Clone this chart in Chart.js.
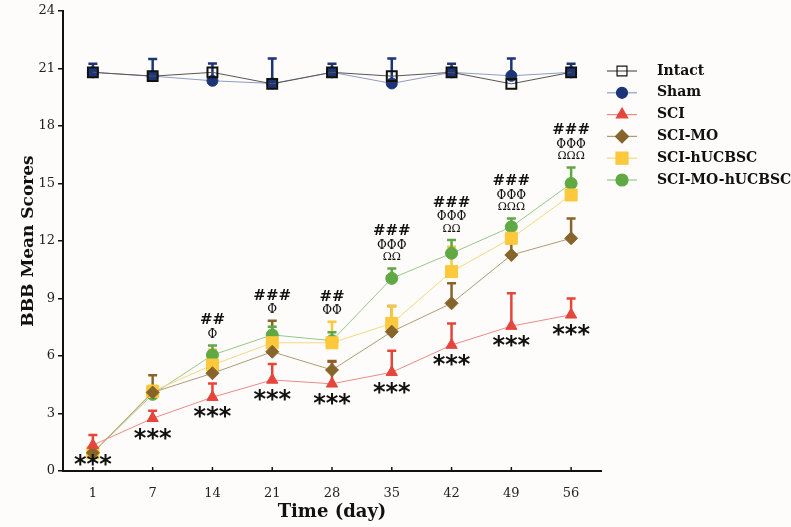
<!DOCTYPE html>
<html>
<head>
<meta charset="utf-8">
<script src="https://cdn.jsdelivr.net/npm/chart.js@4.4.1/dist/chart.umd.min.js"></script>
<style>
  html, body { margin: 0; padding: 0; background: #fdfcfb; }
  #wrap { width: 791px; height: 527px; }
</style>
</head>
<body>
<div id="wrap"><canvas id="bbbChart"></canvas></div>
<script>
// days of measurement
const days = ["1", "7", "14", "21", "28", "35", "42", "49", "56"];

// group means and upper SD
const intact = [20.8, 20.6, 20.8, 20.2, 20.8, 20.6, 20.8, 20.2, 20.8];
const intactSd = [0, 0, 0, 0, 0, 0, 0, 0, 0];
const sham = [20.8, 20.6, 20.36, 20.22, 20.8, 20.22, 20.8, 20.62, 20.8];
const shamSd = [0.45, 0.9, 0.9, 1.3, 0.45, 1.3, 0.45, 0.9, 0.45];
const sci = [1.35, 2.75, 3.85, 4.75, 4.55, 5.15, 6.57, 7.56, 8.15];
const sciSd = [0.53, 0.4, 0.72, 0.83, 1.15, 1.13, 1.13, 1.71, 0.85];
const sciMo = [0.95, 4.1, 5.1, 6.22, 5.27, 7.27, 8.75, 11.27, 12.14];
const sciMoSd = [0.1, 0.9, 1.2, 1.62, 0.47, 1.34, 1.04, 1.5, 1.04];
const sciHu = [0.95, 4.15, 5.53, 6.69, 6.69, 7.7, 10.4, 12.14, 14.4];
const sciHuSd = [0.1, 0.3, 0.8, 0.6, 1.1, 0.9, 1.3, 0.7, 0.78];
const sciMoHu = [0.95, 4.0, 6.05, 7.1, 6.8, 10.05, 11.36, 12.74, 15.0];
const sciMoHuSd = [0.1, 0.3, 0.5, 0.43, 0.44, 0.52, 0.69, 0.44, 0.84];

// significance marks
const starMarks = ["***", "***", "***", "***", "***", "***", "***", "***", "***"];
const hashMarks = ["", "", "##", "###", "##", "###", "###", "###", "###"];
const phiMarks = ["", "", "Φ", "Φ", "ΦΦ", "ΦΦΦ", "ΦΦΦ", "ΦΦΦ", "ΦΦΦ"];
const omegaMarks = ["", "", "", "", "", "ΩΩ", "ΩΩ", "ΩΩΩ", "ΩΩΩ"];

const SERIF = "'DejaVu Serif', serif";

function series(label, data, sd, color, lineColor, style, radius, fill) {
    return {
        label: label,
        data: data,
        sd: sd,
        borderColor: lineColor,
        borderWidth: 1,
        pointStyle: style,
        pointRadius: radius,
        pointHoverRadius: radius,
        pointBackgroundColor: fill,
        pointBorderColor: color,
        pointBorderWidth: style === "rect" && fill === "rgba(0,0,0,0)" ? 2 : 1,
        errColor: color,
        tension: 0
    };
}

const datasets = [
    series("Intact", intact, intactSd, "#111111", "#555555", "rect", 7, "rgba(0,0,0,0)"),
    series("Sham", sham, shamSd, "#1d3577", "#8e9cc2", "circle", 5.5, "#1d3577"),
    series("SCI", sci, sciSd, "#e5453b", "#ee8a84", "triangle", 6.5, "#e5453b"),
    series("SCI-MO", sciMo, sciMoSd, "#87652a", "#b09a74", "rectRot", 6.5, "#87652a"),
    series("SCI-hUCBSC", sciHu, sciHuSd, "#fcc83c", "#f7d77e", "rect", 8.5, "#fcc83c"),
    series("SCI-MO-hUCBSC", sciMoHu, sciMoHuSd, "#5fa844", "#97c886", "circle", 6, "#5fa844")
];

// upper error bars, drawn under the markers
const errorBars = {
    id: "errorBars",
    beforeDatasetsDraw(chart) {
        const ctx = chart.ctx;
        const x = chart.scales.x;
        const y = chart.scales.y;
        ctx.save();
        chart.data.datasets.forEach(ds => {
            ds.data.forEach((v, i) => {
                if (!ds.sd[i]) return;
                const px = x.getPixelForValue(i);
                const y0 = y.getPixelForValue(v);
                const y1 = y.getPixelForValue(v + ds.sd[i]);
                ctx.strokeStyle = ds.errColor;
                ctx.lineWidth = 2.5;
                ctx.beginPath();
                ctx.moveTo(px, y0);
                ctx.lineTo(px, y1);
                ctx.moveTo(px - 4.5, y1);
                ctx.lineTo(px + 4.5, y1);
                ctx.stroke();
            });
        });
        ctx.restore();
    }
};

// significance text, inward x ticks and the legend
const extras = {
    id: "extras",
    afterDraw(chart) {
        const ctx = chart.ctx;
        const x = chart.scales.x;
        const y = chart.scales.y;
        const area = chart.chartArea;
        ctx.save();

        ctx.strokeStyle = "#111";
        ctx.lineWidth = 1.5;
        days.forEach((d, i) => {
            const px = x.getPixelForValue(i);
            ctx.beginPath();
            ctx.moveTo(px, area.bottom);
            ctx.lineTo(px, area.bottom - 4);
            ctx.stroke();
        });

        ctx.fillStyle = "#111";
        ctx.textAlign = "center";
        ctx.textBaseline = "middle";
        days.forEach((d, i) => {
            const px = x.getPixelForValue(i);
            ctx.font = "bold 24px 'DejaVu Sans', sans-serif";
            ctx.fillText(starMarks[i], px, y.getPixelForValue(sci[i]) + 21);

            const top = Math.max(sciMo[i] + sciMoSd[i], sciHu[i] + sciHuSd[i], sciMoHu[i] + sciMoHuSd[i]);
            let py = y.getPixelForValue(top) - 11;
            if (omegaMarks[i]) {
                ctx.font = "11px " + SERIF;
                ctx.fillText(omegaMarks[i], px, py);
                py -= 12;
            }
            if (phiMarks[i]) {
                ctx.font = "12px " + SERIF;
                ctx.fillText(phiMarks[i], px, py);
                py -= 14;
            }
            if (hashMarks[i]) {
                ctx.font = "bold 15px " + SERIF;
                ctx.fillText(hashMarks[i], px, py);
            }
        });

        const lx = 622;
        let ly = 71;
        chart.data.datasets.forEach(ds => {
            ctx.strokeStyle = ds.borderColor;
            ctx.lineWidth = 1.2;
            ctx.beginPath();
            ctx.moveTo(lx - 15, ly);
            ctx.lineTo(lx + 15, ly);
            ctx.stroke();
            ctx.fillStyle = ds.pointBackgroundColor;
            ctx.strokeStyle = ds.pointBorderColor;
            Chart.helpers.drawPoint(ctx, {
                pointStyle: ds.pointStyle,
                radius: ds.pointRadius,
                rotation: 0,
                borderWidth: ds.pointBorderWidth
            }, lx, ly);
            ctx.fillStyle = "#111";
            ctx.textAlign = "left";
            ctx.font = "bold 14px " + SERIF;
            ctx.fillText(ds.label, 657, ly);
            ly += 21.8;
        });

        ctx.restore();
    }
};

const ctx = document.getElementById("bbbChart").getContext("2d");

new Chart(ctx, {
    type: "line",
    data: { labels: days, datasets: datasets },
    options: {
        responsive: true,
        maintainAspectRatio: false,
        animation: false,
        layout: { padding: { left: 14, right: 190, top: 11, bottom: 0 } },
        plugins: {
            legend: { display: false },
            tooltip: { enabled: false }
        },
        scales: {
            x: {
                type: "category",
                offset: true,
                grid: { display: false },
                border: { color: "#111", width: 2 },
                ticks: { color: "#222", font: { family: SERIF, size: 13 }, padding: 7 },
                title: { display: true, text: "Time (day)", color: "#111", font: { family: SERIF, size: 18, weight: "bold" } },
                afterFit: s => { s.height = 56; }
            },
            y: {
                min: 0,
                max: 24,
                grid: { drawOnChartArea: false, color: "#111", tickLength: 5, lineWidth: 1.5 },
                border: { color: "#111", width: 2 },
                ticks: { stepSize: 3, color: "#222", font: { family: SERIF, size: 13 }, padding: 3 },
                title: { display: true, text: "BBB Mean Scores", color: "#111", font: { family: SERIF, size: 17, weight: "bold" } },
                afterFit: s => { s.width = 49; }
            }
        }
    },
    plugins: [errorBars, extras]
});
</script>
</body>
</html>
